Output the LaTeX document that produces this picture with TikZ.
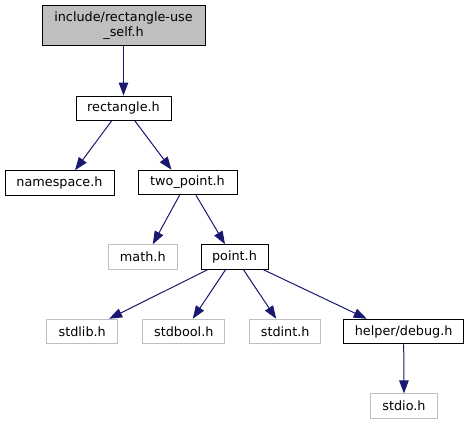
\documentclass[tikz,border=0pt]{standalone}
\usepackage{fontspec}
\setmainfont{DejaVu Sans}
\usetikzlibrary{arrows.meta}
\definecolor{edgecol}{HTML}{191970}
\definecolor{grayline}{HTML}{BFBFBF}
\begin{document}
\begin{tikzpicture}[x=1pt,y=-1pt,
  box/.style={draw=black, line width=1pt, inner sep=0pt, minimum height=24.5pt,
    font=\fontsize{12.8}{15}\selectfont, align=center},
  extbox/.style={box, draw=grayline},
  dep/.style={draw=edgecol, line width=1pt, -{Triangle[length=13pt,width=9.5pt]}, edgecol}]
\useasboundingbox (0,0) rectangle (469,425);
\node[box, fill=grayline, minimum width=163pt, minimum height=40pt] (top) at (123.5,25.7) {include/rectangle-use\\\_self.h};
\node[box, minimum width=95pt] (rect) at (123.5,108.3) {rectangle.h};
\node[box, minimum width=109pt] (ns) at (59.5,183) {namespace.h};
\node[box, minimum width=99pt] (tp) at (187.5,182.5) {two\_point.h};
\node[extbox, minimum width=69pt] (math) at (142.8,257) {math.h};
\node[box, minimum width=67pt] (pt) at (234.5,257) {point.h};
\node[extbox, minimum width=71pt] (stdlib) at (82.2,331.5) {stdlib.h};
\node[extbox, minimum width=82.3pt] (stdbool) at (183.8,331.5) {stdbool.h};
\node[extbox, minimum width=71pt] (stdint) at (285.2,331.5) {stdint.h};
\node[box, minimum width=119.5pt] (helper) at (403.7,331.5) {helper/debug.h};
\node[extbox, minimum width=67pt] (stdio) at (404,406.2) {stdio.h};
\draw[dep] (top.south) -- (rect.north);
\draw[dep] ([xshift=-12pt]rect.south) -- ([xshift=15.5pt]ns.north);
\draw[dep] ([xshift=11.5pt]rect.south) -- ([xshift=-16pt]tp.north);
\draw[dep] ([xshift=-8pt]tp.south) -- ([xshift=10pt]math.north);
\draw[dep] ([xshift=8.5pt]tp.south) -- ([xshift=-9.5pt]pt.north);
\draw[dep] ([xshift=-27pt]pt.south) -- ([xshift=27pt]stdlib.north);
\draw[dep] ([xshift=-9pt]pt.south) -- ([xshift=9pt]stdbool.north);
\draw[dep] ([xshift=9pt]pt.south) -- ([xshift=-9pt]stdint.north);
\draw[dep] ([xshift=29pt]pt.south) -- ([xshift=-37pt]helper.north);
\draw[dep] (helper.south) -- (stdio.north);
\end{tikzpicture}
\end{document}
